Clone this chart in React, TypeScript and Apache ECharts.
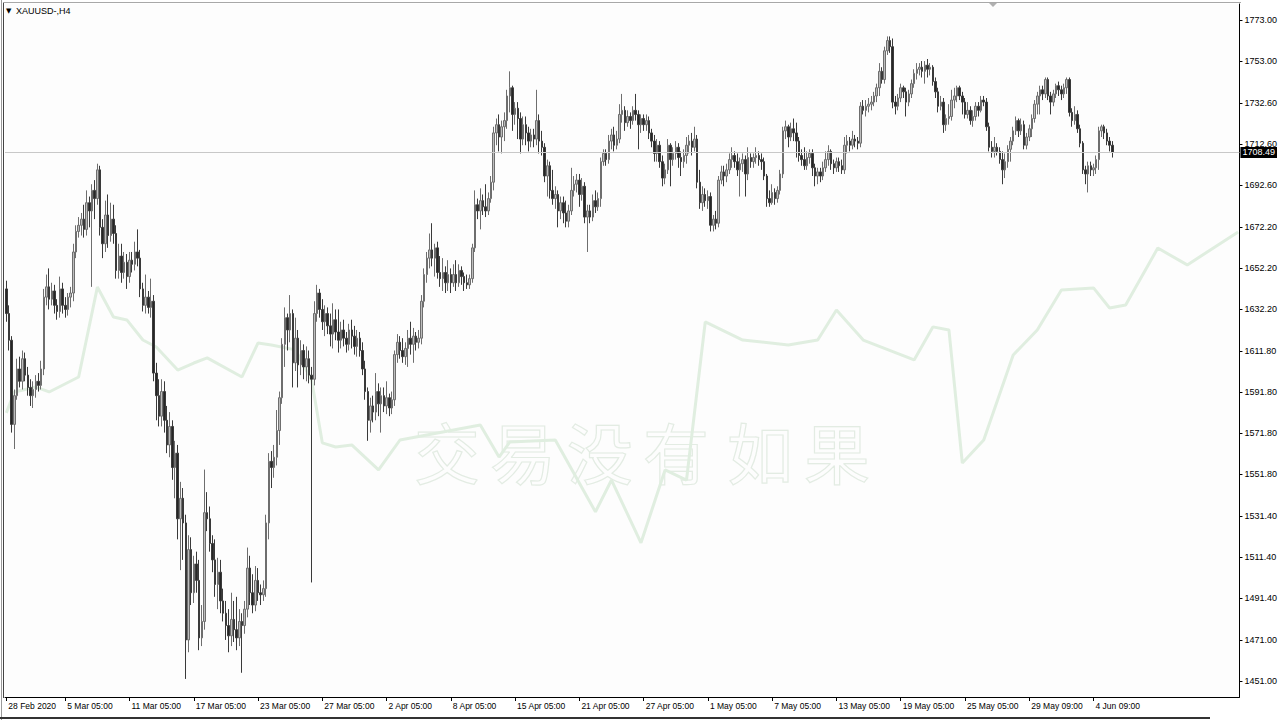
import React, { useEffect, useRef } from 'react';
import * as echarts from 'echarts';

const symbolTitle = 'XAUUSD-,H4';
const watermarkChars = ['交', '易', '没', '有', '如', '果'];
const watermarkX = [447, 523, 600, 676, 760, 837];
const lastPrice = 1708.49;
const slotCount = 461;

const xLabelIndex = [0, 22, 46, 70, 94, 118, 142, 166, 190, 214, 238, 262, 286, 310, 334, 358, 382, 406];
const xLabelText = ['28 Feb 2020', '5 Mar 05:00', '11 Mar 05:00', '17 Mar 05:00', '23 Mar 05:00', '27 Mar 05:00', '2 Apr 05:00', '8 Apr 05:00', '15 Apr 05:00', '21 Apr 05:00', '27 Apr 05:00', '1 May 05:00', '7 May 05:00', '13 May 05:00', '19 May 05:00', '25 May 05:00', '29 May 09:00', '4 Jun 09:00'];
const yTickValues = [1451, 1471, 1491.4, 1511.4, 1531.4, 1551.8, 1571.8, 1591.8, 1611.8, 1632.2, 1652.2, 1672.2, 1692.6, 1712.6, 1732.6, 1753, 1773];

// [open, close, low, high]
const ohlc: number[][] = [
  [1642,1630,1626,1646],[1630,1617,1612,1634],[1617,1576,1572,1619],[1576,1590,1564,1593],[1590,1603,1588,1608],[1603,1597,1594,1609],
  [1597,1608,1593,1612],[1608,1600,1597,1611],[1600,1594,1590,1604],[1594,1590,1585,1598],[1590,1593,1584,1597],[1593,1597,1589,1600],
  [1597,1595,1592,1601],[1595,1603,1593,1607],[1603,1638,1600,1642],[1638,1643,1634,1649],[1643,1637,1632,1652],[1637,1641,1634,1645],
  [1641,1634,1630,1644],[1634,1631,1627,1637],[1631,1642,1628,1648],[1642,1634,1630,1645],[1634,1632,1628,1638],[1632,1638,1629,1640],
  [1638,1640,1633,1643],[1640,1660,1636,1664],[1660,1670,1657,1673],[1670,1673,1667,1677],[1673,1676,1668,1679],[1676,1671,1667,1683],
  [1671,1684,1668,1690],[1684,1680,1672,1687],[1680,1690,1643,1693],[1690,1686,1676,1695],[1686,1700,1683,1703],[1700,1672,1668,1702],
  [1672,1664,1657,1676],[1664,1678,1660,1685],[1678,1668,1662,1688],[1668,1676,1665,1684],[1676,1669,1664,1683],[1669,1651,1647,1673],
  [1651,1658,1647,1664],[1658,1650,1645,1664],[1650,1655,1647,1660],[1655,1648,1642,1659],[1648,1656,1645,1660],[1656,1654,1650,1660],
  [1654,1660,1651,1665],[1660,1657,1653,1671],[1657,1642,1638,1661],[1642,1634,1631,1645],[1634,1638,1630,1649],[1638,1633,1630,1641],
  [1633,1636,1628,1647],[1636,1601,1597,1639],[1601,1590,1578,1606],[1590,1580,1575,1598],[1580,1592,1575,1598],[1592,1578,1572,1597],
  [1578,1566,1562,1585],[1566,1575,1560,1582],[1575,1555,1549,1578],[1555,1562,1540,1568],[1562,1530,1520,1566],[1530,1540,1505,1548],
  [1540,1528,1510,1545],[1528,1471,1452,1532],[1471,1515,1465,1522],[1515,1494,1488,1521],[1494,1508,1489,1512],[1508,1500,1494,1514],
  [1500,1472,1466,1510],[1472,1480,1468,1488],[1480,1533,1476,1554],[1533,1530,1524,1543],[1530,1518,1514,1536],[1518,1510,1504,1522],
  [1510,1498,1492,1520],[1498,1504,1486,1511],[1504,1490,1484,1510],[1490,1484,1480,1496],[1484,1478,1471,1490],[1478,1473,1465,1486],
  [1473,1481,1468,1494],[1481,1476,1470,1490],[1476,1472,1466,1492],[1472,1480,1468,1486],[1480,1478,1455,1484],[1478,1486,1474,1490],
  [1486,1506,1482,1516],[1506,1494,1488,1512],[1494,1488,1484,1503],[1488,1500,1485,1507],[1500,1494,1490,1506],[1494,1493,1488,1498],
  [1493,1496,1490,1500],[1496,1528,1492,1532],[1528,1558,1520,1562],[1558,1555,1545,1563],[1555,1560,1550,1566],[1560,1573,1556,1583],
  [1573,1589,1566,1592],[1589,1615,1586,1618],[1615,1628,1604,1633],[1628,1622,1612,1630],[1622,1630,1616,1639],[1630,1606,1594,1632],
  [1606,1618,1602,1628],[1618,1605,1594,1622],[1605,1612,1600,1617],[1612,1604,1598,1615],[1604,1608,1597,1614],[1608,1600,1596,1612],
  [1600,1598,1499,1604],[1598,1630,1595,1636],[1630,1640,1626,1644],[1640,1632,1628,1642],[1632,1626,1622,1637],[1626,1630,1619,1634],
  [1630,1624,1620,1633],[1624,1620,1614,1630],[1620,1627,1613,1635],[1627,1621,1617,1632],[1621,1617,1611,1632],[1617,1622,1613,1626],
  [1622,1618,1614,1627],[1618,1615,1611,1621],[1615,1622,1612,1625],[1622,1619,1613,1627],[1619,1614,1610,1624],[1614,1618,1609,1622],
  [1618,1612,1609,1621],[1612,1603,1600,1616],[1603,1592,1588,1607],[1592,1578,1568,1594],[1578,1585,1572,1589],[1585,1582,1577,1590],
  [1582,1592,1578,1601],[1592,1586,1580,1596],[1586,1590,1572,1594],[1590,1585,1582,1594],[1585,1589,1581,1597],[1589,1584,1580,1591],
  [1584,1588,1581,1592],[1588,1610,1585,1612],[1610,1616,1606,1620],[1616,1612,1608,1619],[1612,1609,1606,1618],[1609,1613,1605,1616],
  [1613,1618,1604,1622],[1618,1615,1610,1626],[1615,1619,1606,1623],[1619,1616,1612,1621],[1616,1618,1613,1622],[1618,1636,1615,1639],
  [1636,1649,1633,1652],[1649,1657,1645,1660],[1657,1661,1652,1669],[1661,1657,1653,1674],[1657,1662,1648,1664],[1662,1650,1647,1665],
  [1650,1647,1643,1658],[1647,1650,1641,1657],[1650,1645,1640,1653],[1645,1649,1641,1656],[1649,1645,1640,1652],[1645,1649,1643,1654],
  [1649,1645,1641,1656],[1645,1651,1643,1654],[1651,1648,1644,1653],[1648,1645,1641,1650],[1645,1644,1642,1649],[1644,1647,1642,1649],
  [1647,1662,1645,1664],[1662,1683,1660,1690],[1683,1680,1676,1686],[1680,1685,1671,1691],[1685,1682,1678,1688],[1682,1680,1677,1693],
  [1680,1686,1678,1689],[1686,1694,1684,1697],[1694,1718,1690,1721],[1718,1722,1712,1725],[1722,1716,1709,1727],[1716,1721,1708,1724],
  [1721,1724,1714,1728],[1724,1736,1720,1739],[1736,1740,1728,1748],[1740,1727,1719,1741],[1727,1730,1722,1733],[1730,1725,1715,1733],
  [1725,1715,1708,1728],[1715,1722,1712,1726],[1722,1718,1712,1726],[1718,1714,1709,1721],[1714,1717,1711,1720],[1717,1715,1711,1720],
  [1715,1724,1712,1739],[1724,1714,1708,1727],[1714,1711,1707,1719],[1711,1697,1694,1713],[1697,1702,1687,1705],[1702,1690,1686,1704],
  [1690,1686,1683,1700],[1686,1688,1681,1692],[1688,1680,1672,1690],[1680,1684,1676,1687],[1684,1679,1674,1687],[1679,1675,1672,1685],
  [1675,1680,1672,1683],[1680,1690,1678,1701],[1690,1693,1687,1697],[1693,1695,1689,1698],[1695,1688,1682,1698],[1688,1692,1685,1696],
  [1692,1677,1674,1694],[1677,1680,1660,1683],[1680,1677,1674,1683],[1677,1685,1675,1688],[1685,1682,1679,1690],[1682,1686,1680,1689],
  [1686,1704,1682,1706],[1704,1708,1702,1710],[1708,1705,1702,1710],[1705,1714,1703,1717],[1714,1717,1710,1720],[1717,1712,1709,1721],
  [1712,1715,1710,1719],[1715,1727,1713,1732],[1727,1729,1723,1737],[1729,1723,1719,1731],[1723,1726,1721,1729],[1726,1724,1720,1728],
  [1724,1729,1722,1731],[1729,1727,1724,1737],[1727,1722,1710,1729],[1722,1725,1718,1727],[1725,1722,1719,1727],[1722,1724,1719,1727],
  [1724,1718,1715,1726],[1718,1714,1711,1720],[1714,1708,1704,1717],[1708,1712,1704,1715],[1712,1704,1701,1714],[1704,1696,1692,1707],
  [1696,1700,1693,1703],[1700,1712,1698,1715],[1712,1705,1692,1713],[1705,1708,1702,1711],[1708,1711,1705,1714],[1711,1706,1701,1713],
  [1706,1704,1697,1709],[1704,1707,1701,1710],[1707,1712,1703,1716],[1712,1714,1708,1717],[1714,1711,1707,1718],[1711,1715,1709,1721],
  [1715,1694,1691,1717],[1694,1684,1681,1700],[1684,1688,1680,1692],[1688,1685,1682,1691],[1685,1687,1681,1690],[1687,1673,1670,1689],
  [1673,1676,1670,1678],[1676,1674,1671,1680],[1674,1695,1672,1697],[1695,1699,1693,1702],[1699,1697,1692,1702],[1697,1700,1694,1703],
  [1700,1705,1698,1708],[1705,1707,1701,1711],[1707,1704,1701,1709],[1704,1700,1697,1708],[1700,1703,1687,1706],[1703,1705,1699,1708],
  [1705,1698,1687,1707],[1698,1706,1695,1711],[1706,1704,1701,1708],[1704,1706,1701,1708],[1706,1707,1703,1711],[1707,1705,1702,1709],
  [1705,1704,1700,1708],[1704,1697,1695,1706],[1697,1686,1682,1698],[1686,1684,1682,1690],[1684,1689,1683,1693],[1689,1686,1683,1691],
  [1686,1690,1684,1692],[1690,1698,1688,1700],[1698,1719,1696,1721],[1719,1721,1715,1724],[1721,1716,1711,1722],[1716,1720,1714,1723],
  [1720,1718,1714,1725],[1718,1714,1706,1723],[1714,1707,1704,1716],[1707,1705,1702,1710],[1705,1702,1700,1711],[1702,1706,1700,1709],
  [1706,1708,1703,1710],[1708,1701,1697,1710],[1701,1697,1692,1703],[1697,1699,1693,1701],[1699,1697,1694,1701],[1697,1701,1695,1704],
  [1701,1705,1699,1709],[1705,1709,1702,1712],[1709,1703,1700,1710],[1703,1701,1698,1705],[1701,1704,1699,1706],[1704,1702,1699,1706],
  [1702,1700,1698,1705],[1700,1712,1698,1716],[1712,1714,1708,1717],[1714,1712,1709,1716],[1712,1715,1710,1719],[1715,1714,1711,1717],
  [1714,1713,1710,1716],[1713,1731,1711,1733],[1731,1729,1727,1734],[1729,1731,1726,1734],[1731,1732,1728,1735],[1732,1733,1729,1736],
  [1733,1736,1731,1738],[1736,1740,1733,1742],[1740,1748,1736,1752],[1748,1744,1742,1750],[1744,1758,1742,1760],[1758,1763,1756,1765],
  [1763,1760,1757,1765],[1760,1733,1730,1764],[1733,1731,1727,1736],[1731,1735,1729,1737],[1735,1740,1733,1742],[1740,1738,1735,1741],
  [1738,1733,1726,1740],[1733,1737,1731,1739],[1737,1742,1735,1744],[1742,1747,1740,1749],[1747,1749,1744,1752],[1749,1750,1746,1752],
  [1750,1748,1745,1753],[1748,1751,1742,1753],[1751,1749,1745,1754],[1749,1750,1746,1752],[1750,1743,1741,1751],[1743,1738,1735,1745],
  [1738,1731,1728,1740],[1731,1733,1729,1736],[1733,1722,1718,1735],[1722,1725,1719,1727],[1725,1726,1722,1732],[1726,1734,1724,1739],
  [1734,1736,1730,1740],[1736,1740,1733,1741],[1740,1736,1734,1741],[1736,1733,1727,1738],[1733,1727,1725,1735],[1727,1729,1725,1733],
  [1729,1724,1722,1731],[1724,1726,1721,1729],[1726,1731,1724,1733],[1731,1729,1726,1733],[1729,1734,1728,1736],[1734,1733,1731,1736],
  [1733,1721,1719,1735],[1721,1711,1709,1723],[1711,1709,1706,1714],[1709,1711,1706,1716],[1711,1709,1707,1713],[1709,1705,1703,1711],
  [1705,1700,1693,1709],[1700,1704,1696,1708],[1704,1710,1701,1712],[1710,1714,1704,1716],[1714,1719,1712,1721],[1719,1724,1717,1726],
  [1724,1719,1716,1725],[1719,1722,1717,1725],[1722,1712,1710,1724],[1712,1716,1710,1718],[1716,1720,1714,1722],[1720,1725,1716,1727],
  [1725,1732,1723,1734],[1732,1736,1727,1738],[1736,1739,1727,1741],[1739,1737,1734,1741],[1737,1744,1735,1745],[1744,1736,1734,1745],
  [1736,1733,1727,1738],[1733,1737,1731,1739],[1737,1741,1735,1742],[1741,1739,1736,1743],[1739,1737,1734,1741],[1737,1740,1735,1742],
  [1740,1744,1737,1745],[1744,1728,1726,1745],[1728,1724,1721,1730],[1724,1727,1722,1731],[1727,1720,1718,1729],[1720,1713,1711,1722],
  [1713,1700,1698,1714],[1700,1698,1693,1702],[1698,1702,1689,1704],[1702,1700,1697,1704],[1700,1701,1697,1703],[1701,1705,1698,1707],
  [1705,1719,1700,1721],[1719,1721,1716,1722],[1721,1718,1715,1722],[1718,1714,1712,1720],[1714,1712,1709,1716],[1712,1708.49,1706,1714],
];

const greenIndex = [0, 3, 11, 16, 27, 34, 40, 45, 51, 56, 64, 70, 75, 88, 94, 99, 108, 114, 118, 123, 129, 139, 147, 177, 184, 188, 205, 220, 226, 237, 246, 254, 261, 275, 292, 303, 310, 320, 339, 346, 352, 357, 365, 376, 385, 394, 406, 412, 418, 430, 441, 460];
const greenValue = [1581.6, 1591.8, 1594.2, 1591.8, 1599.1, 1642.9, 1628.3, 1626.9, 1617.1, 1613.7, 1602.5, 1605.9, 1608.4, 1599.1, 1615.7, 1614.7, 1612.3, 1597.6, 1567.0, 1565.0, 1566.0, 1553.8, 1568.4, 1575.7, 1560.1, 1567.4, 1568.4, 1533.4, 1548.9, 1518.3, 1553.8, 1548.9, 1625.9, 1617.1, 1614.7, 1617.1, 1631.7, 1617.1, 1607.4, 1623.5, 1622.0, 1557.2, 1568.4, 1609.8, 1622.0, 1641.5, 1642.5, 1632.7, 1634.2, 1661.9, 1653.7, 1669.7];

const FONT = 'Liberation Sans, Arial, sans-serif';

export default function App() {
  const ref = useRef<HTMLDivElement>(null);
  useEffect(() => {
    document.body.style.margin = '0';
    const el = ref.current;
    if (!el) return;
    const chart = echarts.init(el, undefined, { renderer: 'svg' });
    const categories = Array.from({ length: slotCount }, (_, i) => String(i));
    const labelMap = new Map<number, string>();
    xLabelIndex.forEach((ix, k) => labelMap.set(ix, xLabelText[k]));
    const showIdx = (i: number) => labelMap.has(i);

    const watermark = watermarkChars.map((ch, k) => ({
      type: 'text',
      x: watermarkX[k],
      y: 450,
      z: 0,
      silent: true,
      style: {
        text: ch,
        fontSize: 66,
        fontFamily: 'Noto Sans CJK SC',
        fill: 'rgba(255,255,255,0)',
        stroke: '#e3ece3',
        lineWidth: 1.2,
        align: 'center',
        verticalAlign: 'middle',
      },
    }));

    chart.setOption({
      animation: false,
      backgroundColor: '#ffffff',
      grid: { left: 5, right: 39, top: 4, bottom: 23, show: true, backgroundColor: '#fdfdfd', borderWidth: 0 },
      xAxis: {
        type: 'category',
        data: categories,
        boundaryGap: true,
        axisLine: { show: true, lineStyle: { color: '#000', width: 1 } },
        axisTick: { show: true, alignWithLabel: true, length: 4, interval: (i: number) => showIdx(i), lineStyle: { color: '#000' } },
        axisLabel: {
          show: true,
          interval: (i: number) => showIdx(i),
          formatter: (v: string) => labelMap.get(Number(v)) ?? '',
          align: 'left',
          margin: 4,
          fontSize: 8.5,
          fontFamily: FONT,
          color: '#000',
          padding: [0, 0, 0, 2],
        },
        splitLine: { show: false },
      },
      yAxis: {
        type: 'value',
        position: 'right',
        min: 1443.2,
        max: 1780.8,
        axisLine: { show: true, lineStyle: { color: '#000', width: 1 } },
        axisTick: { show: true, length: 3, customValues: yTickValues, lineStyle: { color: '#000' } },
        axisLabel: {
          customValues: yTickValues,
          formatter: (v: number) => v.toFixed(2),
          fontSize: 9,
          fontFamily: FONT,
          color: '#000',
          margin: 5,
        },
        splitLine: { show: false },
      },
      graphic: [
        ...watermark,
        { type: 'line', silent: true, shape: { x1: 1.5, y1: 0, x2: 1.5, y2: 720 }, style: { stroke: '#9a9a9a', lineWidth: 1 } },
        { type: 'line', silent: true, shape: { x1: 3.5, y1: 2, x2: 3.5, y2: 698 }, style: { stroke: '#444', lineWidth: 1 } },
        { type: 'line', silent: true, shape: { x1: 3, y1: 2.5, x2: 1241, y2: 2.5 }, style: { stroke: '#a8a8a8', lineWidth: 1 } },
        { type: 'line', silent: true, shape: { x1: 0, y1: 718, x2: 1210, y2: 718 }, style: { stroke: '#333', lineWidth: 2 } },
        { type: 'polygon', silent: true, shape: { points: [[989, 3], [997, 3], [993, 7]] }, style: { fill: '#b0b0b0' } },
        { type: 'text', x: 6, y: 7, silent: true, style: { text: '▼', fontSize: 7, fontFamily: 'DejaVu Sans', fill: '#000' } },
        { type: 'text', x: 16, y: 6, silent: true, style: { text: symbolTitle, fontSize: 9, fontFamily: FONT, fill: '#000' } },
      ],
      series: [
        {
          type: 'line',
          data: greenIndex.map((x, i) => [x, greenValue[i]]),
          symbol: 'none',
          silent: true,
          z: 1,
          lineStyle: { color: '#e0eee0', width: 3 },
        },
        {
          type: 'candlestick',
          data: ohlc,
          barWidth: 2,
          z: 3,
          itemStyle: {
            color: '#bdbdbd',
            color0: '#262626',
            borderColor: '#6e6e6e',
            borderColor0: '#3a3a3a',
            borderWidth: 1,
          },
          markLine: {
            silent: true,
            symbol: ['none', 'none'],
            data: [{ yAxis: lastPrice }],
            lineStyle: { color: '#c8c8c8', width: 1, type: 'solid' },
            label: {
              show: true,
              position: 'end',
              formatter: lastPrice.toFixed(2),
              backgroundColor: '#000',
              color: '#fff',
              fontSize: 9,
              fontFamily: FONT,
              padding: [1, 2, 1, 2],
              distance: 1,
            },
          },
        },
      ],
    });
    return () => chart.dispose();
  }, []);
  return <div ref={ref} style={{ width: 1280, height: 720 }} />;
}
